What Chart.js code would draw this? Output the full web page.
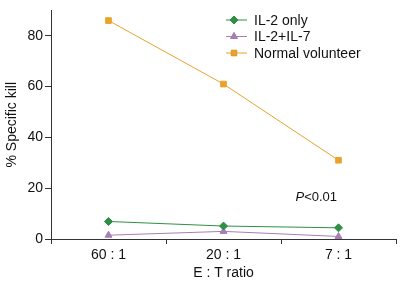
<!DOCTYPE html>
<html>
<head>
<meta charset="utf-8">
<script src="https://cdn.jsdelivr.net/npm/chart.js@4/dist/chart.umd.min.js"></script>
<style>
  html, body { margin: 0; padding: 0; background: #fff; }
  #wrap { width: 405px; height: 286px; }
</style>
</head>
<body>
<div id="wrap"><canvas id="killChart" width="405" height="286"></canvas></div>
<script>
const ratios = ["60 : 1", "20 : 1", "7 : 1"];
const il2Only = [6.9, 5.1, 4.4];
const il2il7 = [1.5, 3.0, 1.0];
const normalVolunteer = [86, 61, 31];
const yTicks = [0, 20, 40, 60, 80];

const FONT = "'Liberation Sans', Arial, sans-serif";

// legend drawn as line + marker like the original figure
const lineLegend = {
  id: "lineLegend",
  afterDraw(chart) {
    const ctx = chart.ctx;
    ctx.save();
    chart.data.datasets.forEach((ds, i) => {
      const y = 20 + i * 16.5;
      ctx.strokeStyle = ds.borderColor;
      ctx.lineWidth = 1;
      ctx.beginPath();
      ctx.moveTo(226, y);
      ctx.lineTo(247, y);
      ctx.stroke();
      Chart.helpers.drawPoint(ctx, {
        pointStyle: ds.pointStyle,
        radius: ds.pointRadius,
        borderWidth: 1
      }, 234, y);
      ctx.fillStyle = ds.backgroundColor;
      ctx.fill();
      ctx.fillStyle = "#111";
      ctx.font = "14px " + FONT;
      ctx.textBaseline = "middle";
      ctx.textAlign = "left";
      ctx.fillText(ds.label, 254, y + 1);
    });
    ctx.restore();
  }
};

const pNote = {
  id: "pNote",
  afterDraw(chart) {
    const ctx = chart.ctx;
    const x = chart.scales.x.getPixelForValue(2) - 43;
    const y = chart.scales.y.getPixelForValue(16.5);
    ctx.save();
    ctx.fillStyle = "#111";
    ctx.textBaseline = "middle";
    ctx.font = "italic 13px " + FONT;
    ctx.fillText("P", x, y);
    const w = ctx.measureText("P").width;
    ctx.font = "13px " + FONT;
    ctx.fillText("<0.01", x + w, y);
    ctx.restore();
  }
};

new Chart(document.getElementById("killChart"), {
  type: "line",
  data: {
    labels: ratios,
    datasets: [
      {
        label: "IL-2 only",
        data: il2Only,
        borderColor: "#2f8f45",
        backgroundColor: "#2f8f45",
        pointStyle: "rectRot",
        pointRadius: 4,
        borderWidth: 1
      },
      {
        label: "IL-2+IL-7",
        data: il2il7,
        borderColor: "#a77fb3",
        backgroundColor: "#a77fb3",
        pointStyle: "triangle",
        pointRadius: 4,
        borderWidth: 1
      },
      {
        label: "Normal volunteer",
        data: normalVolunteer,
        borderColor: "#e8a32e",
        backgroundColor: "#e8a32e",
        pointStyle: "rect",
        pointRadius: 4,
        borderWidth: 1
      }
    ]
  },
  options: {
    responsive: false,
    animation: false,
    layout: { padding: { top: 4, right: 9, left: 0, bottom: 0 } },
    plugins: { legend: { display: false }, tooltip: { enabled: false } },
    scales: {
      x: {
        offset: true,
        afterFit: (s) => { s.height = 47; },
        grid: { display: true, offset: true, drawOnChartArea: false, tickLength: 5, color: "#333" },
        border: { color: "#333", width: 1 },
        ticks: { color: "#111", font: { family: FONT, size: 14 }, padding: 3 },
        title: { display: true, text: "E : T ratio", color: "#111", font: { family: FONT, size: 14 }, padding: { top: 1 } }
      },
      y: {
        min: 0,
        max: 90,
        afterFit: (s) => { s.width = 51; },
        afterBuildTicks: (s) => { s.ticks = yTicks.map((v) => ({ value: v })); },
        grid: { display: true, drawOnChartArea: false, tickLength: 6, color: "#333" },
        border: { color: "#333", width: 1 },
        ticks: { color: "#111", font: { family: FONT, size: 14 }, padding: 2 },
        title: { display: true, text: "% Specific kill", color: "#111", font: { family: FONT, size: 14 }, padding: { bottom: 1 } }
      }
    }
  },
  plugins: [lineLegend, pNote]
});
</script>
</body>
</html>
